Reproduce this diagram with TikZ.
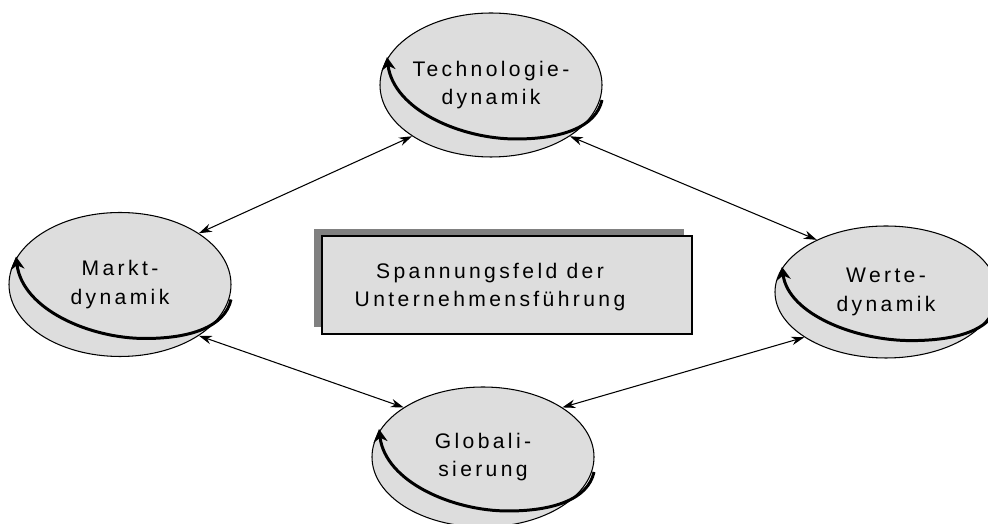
\documentclass[tikz,border=0pt]{standalone}
\usepackage{fontspec}
\newfontfamily\spaced{Liberation Sans}[LetterSpace=16]
\usetikzlibrary{arrows.meta,shapes.geometric,shadows}
\definecolor{panel}{HTML}{DDDDDD}
\definecolor{shade}{HTML}{808080}

\begin{document}
\begin{tikzpicture}[
force/.style = {ellipse, draw=black, line width=0.6pt, fill=panel, inner sep=0pt,
                align=center, font=\spaced\fontsize{12}{16}\selectfont,
                minimum width=4.44cm, minimum height=2.88cm},
board/.style = {rectangle, draw=black, line width=0.6pt, fill=panel,
                minimum width=7.4cm, minimum height=1.96cm,
                drop shadow={shadow xshift=-0.16cm, shadow yshift=0.13cm, fill=shade, opacity=1}},
link/.style = {{Stealth[length=2.6mm,width=1.7mm]}-{Stealth[length=2.6mm,width=1.7mm]}, line width=0.6pt},
spin/.style = {-{Stealth[length=2.6mm,width=2.8mm]}, line width=1.7pt}
                    ]
% page size
\useasboundingbox (0,0) rectangle (19.76,10.48);

% the four forces
\node[force] (tech) at (9.82,8.78) {Technologie-\\dynamik};
\node[force] (markt) at (2.40,4.79) {Markt-\\dynamik};
\node[force, minimum height=2.64cm] (werte) at (17.72,4.64) {Werte-\\dynamik};
\node[force, minimum height=2.8cm] (global) at (9.66,1.34) {Globali-\\sierung};

% turning arrows inside
\foreach \n/\s in {tech/1, markt/1, werte/0.9, global/1}
{
    \begin{scope}[shift={(\n.center)}, yscale=\s]
    \draw[spin] (2.22,-0.3) .. controls (2.1,-0.85) and (1.4,-1.08) .. (0.5,-1.08)
                .. controls (-0.6,-1.08) and (-1.95,-0.5) .. (-2.08,0.56);
    \end{scope}
}

% field in the middle
\node[board] (board) at (10.14,4.78) {};
\node[font=\spaced\fontsize{12}{16}\selectfont, align=center] (title) at (9.80,4.74)
    {Spannungsfeld der\\Unternehmensführung};

% links
\draw[link] (tech.213) -- (markt.33);
\draw[link] (tech.327) -- (werte.143);
\draw[link] (markt.327) -- (global.148);
\draw[link] (werte.209) -- (global.32);

\end{tikzpicture}
\end{document}
